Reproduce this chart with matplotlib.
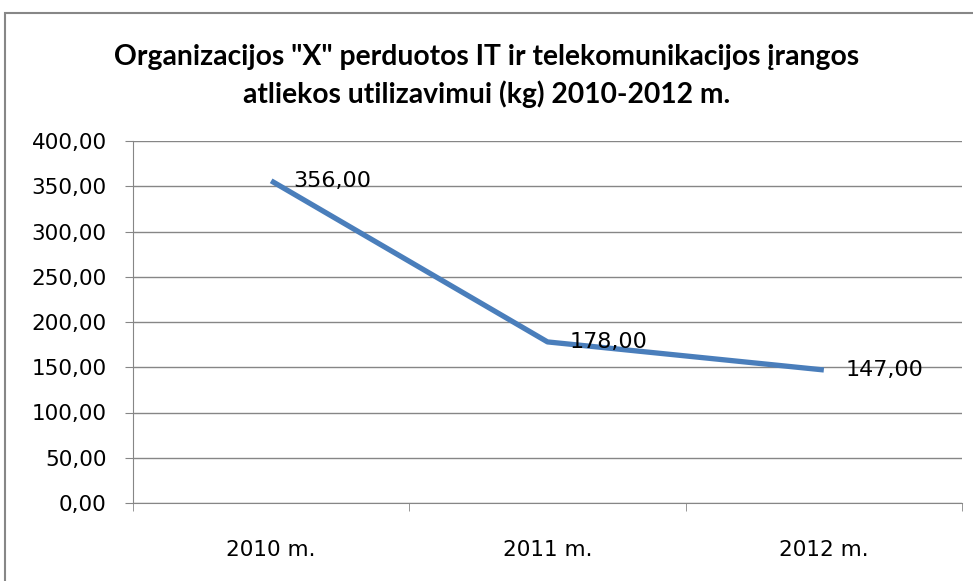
import matplotlib
matplotlib.use("Agg")
import matplotlib.pyplot as plt
from matplotlib.patches import Rectangle

categories = ["2010 m.", "2011 m.", "2012 m."]
values = [356.00, 178.00, 147.00]
title = 'Organizacijos "X" perduotos IT ir telekomunikacijos įrangos\natliekos utilizavimui (kg) 2010-2012 m.'

def fmt(v):
    return f"{v:.2f}".replace(".", ",")

fig = plt.figure(figsize=(9.73, 5.81), dpi=100)
ax = fig.add_axes([133 / 973, 1 - 503 / 581, 829 / 973, 362 / 581])

# outer chart border (clipped at right/bottom as in the picture)
fig.patches.append(Rectangle((5 / 973, -0.05), 1.2, 1 - 13 / 581 + 0.05,
                             transform=fig.transFigure, fill=False,
                             edgecolor="#878787", linewidth=1.5))

x = range(len(categories))
ax.plot(x, values, color="#4A7EBB", linewidth=3.8, solid_capstyle="butt", zorder=3)
for xi, v in zip(x, values):
    ax.annotate(fmt(v), (xi, v), xytext=(16, 0), textcoords="offset points",
                va="center", ha="left", fontsize=16, family="DejaVu Sans", zorder=4)

ax.set_ylim(0, 400)
ax.set_xlim(-0.5, 2.5)
ax.set_yticks(range(0, 401, 50))
ax.set_yticklabels([fmt(t) for t in range(0, 401, 50)], fontsize=15.5)
ax.yaxis.grid(True, color="#868686", linewidth=1)
ax.set_axisbelow(True)

ax.set_xticks(list(x))
ax.set_xticklabels(categories, fontsize=15.5)
ax.set_xticks([-0.5, 0.5, 1.5, 2.5], minor=True)
ax.tick_params(axis="x", which="major", length=0, pad=27)
ax.tick_params(axis="x", which="minor", length=6, color="#868686", direction="out")
ax.tick_params(axis="y", length=6, color="#868686", direction="out", pad=13)

for s in ["top", "right"]:
    ax.spines[s].set_visible(False)
for s in ["left", "bottom"]:
    ax.spines[s].set_color("#868686")

fig.text(0.5, 1 - 76 / 581, title, ha="center", va="center", fontsize=20.3,
         fontweight="bold", family="Lato", linespacing=1.5)

fig.savefig("out.png", dpi=100)
